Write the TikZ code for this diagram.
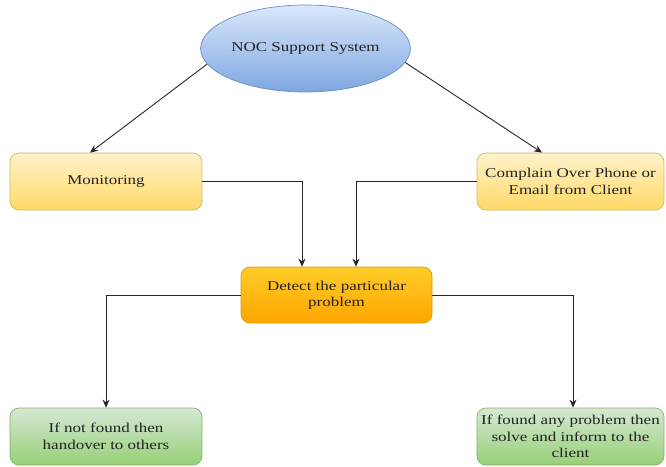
\documentclass[tikz,border=0pt]{standalone}
\usepackage{fontspec}
\setmainfont[FakeStretch=1.26]{Liberation Serif}
\usetikzlibrary{shapes.geometric,arrows.meta,calc}
\definecolor{bluetop}{HTML}{DAE8FC}
\definecolor{bluebot}{HTML}{7EA6E0}
\definecolor{blueline}{HTML}{6C8EBF}
\definecolor{yeltop}{HTML}{FFF2CC}
\definecolor{yelbot}{HTML}{FFD966}
\definecolor{yelline}{HTML}{D6B656}
\definecolor{ortop}{HTML}{FFCD28}
\definecolor{orbot}{HTML}{FFA500}
\definecolor{orline}{HTML}{D79B00}
\definecolor{grtop}{HTML}{D5E8D4}
\definecolor{grbot}{HTML}{97D077}
\definecolor{grline}{HTML}{82B366}
\definecolor{txt}{HTML}{222222}
\begin{document}
\begin{tikzpicture}[x=1pt,y=-1pt,
  every node/.style={font=\fontsize{13.5}{16.5}\selectfont, text=txt, align=center, inner sep=1pt},
  boxbase/.style={rectangle, rounded corners=9pt, line width=0.7pt},
  yelbox/.style={boxbase, draw=yelline, top color=yeltop, bottom color=yelbot},
  orbox/.style={boxbase, draw=orline, top color=ortop, bottom color=orbot},
  grbox/.style={boxbase, draw=grline, top color=grtop, bottom color=grbot},
  conn/.style={draw=black!85, line width=0.9pt, -{Stealth[length=8pt,width=7pt]}}
]
\useasboundingbox (0,0) rectangle (666,466);

\node[ellipse, draw=blueline, line width=0.7pt, top color=bluetop, bottom color=bluebot,
      minimum width=209pt, minimum height=87pt, inner sep=0pt] (ell) at (305.5,48.5) {NOC Support System};

\node[yelbox, minimum width=192pt, minimum height=57pt] (mon) at (106,181.5) {Monitoring};
\node[yelbox, minimum width=187pt, minimum height=57pt] (comp) at (570.5,181.5) {Complain Over Phone or\\Email from Client};
\node[orbox, minimum width=191pt, minimum height=56pt] (det) at (336.5,295) {Detect the particular\\problem};
\node[grbox, minimum width=192pt, minimum height=57pt] (nf) at (106,436.5) {If not found then\\handover to others};
\node[grbox, minimum width=187pt, minimum height=57pt] (fd) at (570.5,436.5) {If found any problem then\\solve and inform to the\\client};

\draw[conn] (ell.189) -- ([xshift=-16pt]mon.north);
\draw[conn] (ell.352.6) -- ([xshift=-28.5pt]comp.north);
\draw[conn] (mon.east) -| ([xshift=-34.5pt]det.north);
\draw[conn] (comp.west) -| ([xshift=19.5pt]det.north);
\draw[conn] (det.west) -| (nf.north);
\draw[conn] (det.east) -| ([xshift=2.5pt]fd.north);
\end{tikzpicture}
\end{document}
